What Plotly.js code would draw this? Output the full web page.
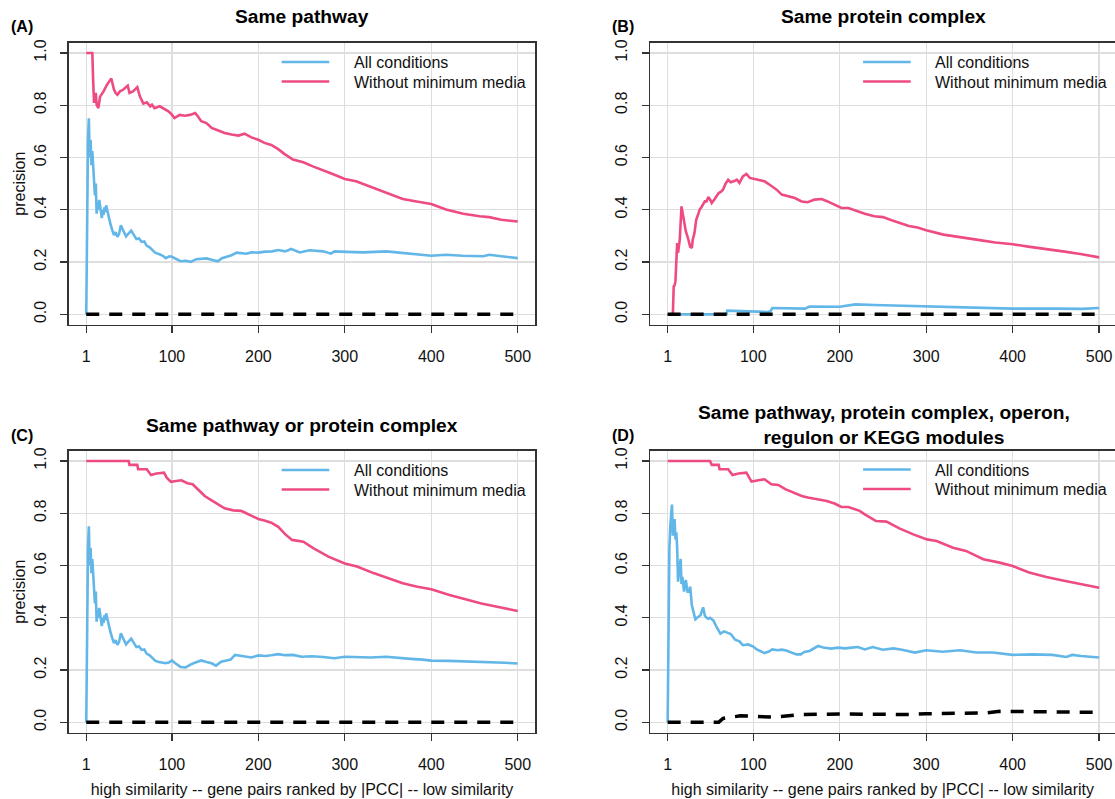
<!DOCTYPE html>
<html><head><meta charset="utf-8">
<script src="https://cdn.plot.ly/plotly-3.0.1.min.js"></script>
<style>html,body{margin:0;padding:0;background:#fff}#chart{width:1115px;height:799px}</style>
</head><body><div id="chart"></div>
<script>
// ---------- text ----------
const panelTitles = ['Same pathway', 'Same protein complex', 'Same pathway or protein complex',
  'Same pathway, protein complex, operon,<br>regulon or KEGG modules'];
const panelLabels = ['(A)', '(B)', '(C)', '(D)'];
const seriesNames = ['All conditions', 'Without minimum media'];
const yAxisLabel = 'precision';
const xAxisLabel = 'high similarity -- gene pairs ranked by |PCC| -- low similarity';
const xTickVals = [1, 100, 200, 300, 400, 500];
const xTickText = ['1', '100', '200', '300', '400', '500'];
const yTickVals = [0, 0.2, 0.4, 0.6, 0.8, 1.0];
const yTickText = ['0.0', '0.2', '0.4', '0.6', '0.8', '1.0'];

// ---------- (A) Same pathway ----------
const aAllX = [1,2,3,4,5,6,7,8,9,10,11,12,13,14,15,16,17,18,19,20,21,22,23,24,25,26,27,29,31,33,35,37,39,41,43,45,47,49,51,53,56,59,62,65,68,71,74,77,81,85,89,93,97,100,104,110,116,122,128,134,140,146,153,158,163,169,175,180,186,192,200,208,216,223,231,238,248,259,275,284,288,302,321,348,367,386,400,417,436,460,467,481,500];
const aAllY = [0,0.5,0.667,0.75,0.6,0.667,0.571,0.625,0.556,0.5,0.455,0.5,0.385,0.429,0.4,0.438,0.412,0.389,0.368,0.4,0.381,0.409,0.391,0.417,0.4,0.385,0.37,0.345,0.323,0.303,0.314,0.297,0.308,0.341,0.326,0.311,0.298,0.306,0.314,0.32,0.304,0.288,0.29,0.277,0.279,0.262,0.257,0.247,0.235,0.231,0.225,0.215,0.222,0.22,0.212,0.203,0.205,0.201,0.211,0.213,0.214,0.209,0.203,0.215,0.22,0.226,0.236,0.234,0.232,0.237,0.236,0.24,0.241,0.246,0.241,0.25,0.237,0.245,0.241,0.232,0.241,0.239,0.237,0.241,0.235,0.228,0.224,0.228,0.224,0.222,0.228,0.222,0.215];
const aNoMinX = [1,8,9,10,12,13,15,17,21,25,30,33,35,37,40,44,49,51,55,60,63,67,71,75,77,80,86,92,96,100,103,109,115,121,127,130,134,140,146,153,161,169,177,184,192,200,207,215,223,230,240,252,263,283,300,313,333,352,367,383,400,417,437,456,467,481,500];
const aNoMinY = [1,1,0.892,0.809,0.847,0.802,0.789,0.833,0.853,0.879,0.902,0.86,0.847,0.84,0.853,0.86,0.875,0.847,0.853,0.869,0.834,0.806,0.811,0.796,0.802,0.789,0.796,0.783,0.777,0.764,0.751,0.763,0.76,0.763,0.77,0.758,0.739,0.732,0.713,0.704,0.694,0.688,0.684,0.691,0.677,0.668,0.656,0.648,0.632,0.614,0.592,0.582,0.566,0.541,0.518,0.509,0.483,0.458,0.441,0.432,0.422,0.401,0.385,0.375,0.372,0.362,0.355];
const aRandX = [1, 500];
const aRandY = [0, 0];

// ---------- (B) Same protein complex ----------
const bAllX = [1,69,70,117,120,122,160,165,200,210,218,240,300,350,400,450,480,500];
const bAllY = [0,0,0.014,0.009,0.012,0.024,0.022,0.03,0.029,0.033,0.038,0.036,0.03,0.026,0.022,0.022,0.021,0.024];
const bNoMinX = [1,7,8,9,10,11,12,13,14,15,17,18,20,22,25,27,29,30,32,34,36,38,40,42,44,46,48,50,52,55,57,60,63,65,68,71,74,76,78,81,84,88,92,96,102,108,113,119,127,133,140,148,156,163,171,179,186,194,202,210,217,229,240,250,260,270,280,290,300,320,340,360,380,400,420,440,460,480,500];
const bNoMinY = [0,0,0.107,0.111,0.126,0.235,0.273,0.235,0.273,0.286,0.413,0.39,0.349,0.318,0.286,0.259,0.254,0.286,0.311,0.362,0.38,0.401,0.41,0.42,0.432,0.432,0.449,0.44,0.426,0.439,0.45,0.464,0.47,0.477,0.5,0.515,0.505,0.509,0.51,0.515,0.503,0.528,0.537,0.522,0.518,0.515,0.509,0.496,0.477,0.458,0.452,0.445,0.432,0.429,0.439,0.441,0.432,0.42,0.407,0.407,0.398,0.385,0.375,0.372,0.36,0.348,0.338,0.332,0.322,0.305,0.296,0.285,0.275,0.268,0.258,0.25,0.24,0.23,0.218];
const bRandX = [1, 500];
const bRandY = [0, 0];

// ---------- (C) Same pathway or protein complex ----------
const cAllX = [1,2,3,4,5,6,7,8,9,10,11,12,13,14,15,16,17,18,19,20,21,22,23,24,25,26,27,29,31,33,35,37,39,41,43,45,47,49,51,53,56,59,62,65,68,71,74,77,81,85,89,93,97,100,104,110,116,122,128,134,140,146,151,157,162,168,173,180,186,192,200,208,215,223,231,240,250,262,275,288,300,315,330,348,362,376,390,400,420,438,455,471,485,500];
const cAllY = [0,0.5,0.667,0.75,0.6,0.667,0.571,0.625,0.556,0.5,0.455,0.5,0.385,0.429,0.4,0.438,0.412,0.389,0.368,0.4,0.381,0.409,0.391,0.417,0.4,0.385,0.37,0.345,0.323,0.303,0.314,0.297,0.308,0.341,0.326,0.311,0.298,0.306,0.314,0.32,0.304,0.288,0.29,0.277,0.279,0.262,0.257,0.247,0.235,0.231,0.228,0.226,0.23,0.237,0.226,0.212,0.21,0.222,0.23,0.237,0.231,0.226,0.217,0.232,0.236,0.24,0.258,0.254,0.25,0.248,0.256,0.254,0.257,0.261,0.257,0.258,0.251,0.253,0.25,0.245,0.251,0.249,0.248,0.251,0.246,0.243,0.24,0.236,0.235,0.233,0.231,0.232,0.228,0.225];
const cNoMinX = [1,50,51,60,61,71,75,76,82,91,94,99,105,111,118,124,130,138,146,153,161,171,180,186,192,200,207,215,223,231,239,252,264,281,300,314,334,355,367,384,400,421,438,458,479,500];
const cNoMinY = [1,1,0.985,0.985,0.968,0.968,0.95,0.946,0.952,0.955,0.936,0.92,0.923,0.926,0.915,0.911,0.892,0.866,0.849,0.834,0.819,0.811,0.809,0.8,0.79,0.778,0.772,0.764,0.748,0.72,0.698,0.691,0.666,0.634,0.608,0.596,0.57,0.545,0.532,0.519,0.509,0.487,0.471,0.455,0.44,0.426];
const cRandX = [1, 500];
const cRandY = [0, 0];

// ---------- (D) Same pathway, protein complex, operon, regulon or KEGG modules ----------
const dAllX = [1,2,3,4,5,6,7,8,9,10,11,12,13,14,15,16,17,18,19,20,21,22,23,24,26,27,29,31,33,35,37,39,42,44,46,48,50,54,58,62,66,70,74,79,84,88,94,100,104,108,113,118,122,128,133,138,144,150,155,159,165,170,175,181,190,198,206,214,221,229,238,250,262,272,281,287,300,319,339,358,377,390,400,423,446,462,469,479,490,500];
const dAllY = [0,0.5,0.667,0.75,0.8,0.833,0.714,0.75,0.778,0.7,0.727,0.667,0.538,0.571,0.6,0.625,0.529,0.556,0.526,0.5,0.524,0.545,0.522,0.5,0.5,0.519,0.448,0.419,0.394,0.4,0.405,0.41,0.44,0.409,0.4,0.396,0.4,0.389,0.362,0.339,0.348,0.343,0.338,0.316,0.31,0.295,0.298,0.29,0.279,0.273,0.265,0.271,0.279,0.276,0.278,0.275,0.267,0.26,0.26,0.269,0.273,0.282,0.292,0.286,0.282,0.286,0.283,0.286,0.288,0.279,0.288,0.278,0.283,0.278,0.273,0.267,0.276,0.27,0.276,0.267,0.267,0.262,0.258,0.26,0.258,0.25,0.258,0.254,0.25,0.248];
const dNoMinX = [1,50,52,60,61,71,76,83,92,98,106,113,121,129,137,146,156,163,175,185,194,202,210,217,223,229,242,254,269,285,301,312,331,346,366,385,400,419,439,458,479,500];
const dNoMinY = [1,1,0.985,0.985,0.968,0.968,0.946,0.952,0.955,0.921,0.926,0.93,0.911,0.908,0.892,0.879,0.866,0.86,0.853,0.847,0.837,0.824,0.824,0.815,0.809,0.796,0.77,0.768,0.742,0.719,0.7,0.694,0.668,0.656,0.624,0.611,0.598,0.573,0.556,0.543,0.528,0.515];
const dRandX = [1,60,65,80,85,125,140,155,200,240,280,300,330,370,385,420,460,500];
const dRandY = [0,0,0.015,0.02,0.025,0.02,0.025,0.03,0.032,0.03,0.03,0.033,0.033,0.036,0.042,0.041,0.039,0.038];

// ---------- drawing ----------
const FONT = 'Liberation Sans, Arial, Helvetica, sans-serif';
const BLUE = '#62B7E8';
const PINK = '#EE4B82';
const SERIES_COLORS = [BLUE, PINK];
const txt = {family: FONT, size: 16, color: '#111'};

const panels = [
  {all: [aAllX, aAllY], nomin: [aNoMinX, aNoMinY], rand: [aRandX, aRandY]},
  {all: [bAllX, bAllY], nomin: [bNoMinX, bNoMinY], rand: [bRandX, bRandY]},
  {all: [cAllX, cAllY], nomin: [cNoMinX, cNoMinY], rand: [cRandX, cRandY]},
  {all: [dAllX, dAllY], nomin: [dNoMinX, dNoMinY], rand: [dRandX, dRandY]}
];

const traces = [];
panels.forEach((p, i) => {
  const n = i === 0 ? '' : String(i + 1);
  const xr = 'x' + n, yr = 'y' + n;
  traces.push({x: p.all[0], y: p.all[1], type: 'scatter', mode: 'lines', name: seriesNames[0],
    line: {color: BLUE, width: 2.6}, xaxis: xr, yaxis: yr, showlegend: false});
  traces.push({x: p.nomin[0], y: p.nomin[1], type: 'scatter', mode: 'lines', name: seriesNames[1],
    line: {color: PINK, width: 2.6}, xaxis: xr, yaxis: yr, showlegend: false});
  traces.push({x: p.rand[0], y: p.rand[1], type: 'scatter', mode: 'lines', name: 'random',
    line: {color: '#000', width: 3.5, dash: '13px,10px'}, xaxis: xr, yaxis: yr, showlegend: false});
});

const W = 1115, H = 799;
const px = v => v / W, py = v => 1 - v / H;
const xDomL = [px(69.0), px(535.0)], xDomR = [px(650.4), 1];
const xRangeL = [-18.96, 519.96], xRangeR = [-18.96, 518.34];
const yDomT = [py(324.8), py(42.5)], yDomB = [py(732.8), py(450.5)];

function xAxis(domain, range, anchor, withTitle) {
  return {domain, range, anchor, fixedrange: true, tickmode: 'array', tickvals: xTickVals, ticktext: xTickText,
    ticks: 'outside', ticklen: 7, tickwidth: 1.3, tickcolor: '#333', showline: true, linecolor: '#333',
    linewidth: 1.6, mirror: true, showgrid: true, gridcolor: '#dedede', gridwidth: 1.3, zeroline: false,
    tickfont: txt, ticklabelstandoff: 9,
    title: withTitle ? {text: xAxisLabel, font: txt, standoff: 12} : {text: ''}};
}
function yAxis(domain, anchor, mirror, withTitle) {
  return {domain, range: [-0.04, 1.04], anchor, fixedrange: true, tickmode: 'array', tickvals: yTickVals,
    ticktext: yTickText, tickangle: -90, ticks: 'outside', ticklen: 7, tickwidth: 1.3, tickcolor: '#333',
    showline: true, linecolor: '#333', linewidth: 1.6, mirror, showgrid: true, gridcolor: '#dedede',
    gridwidth: 1.3, zeroline: false, tickfont: txt, ticklabelstandoff: 8,
    title: withTitle ? {text: yAxisLabel, font: txt, standoff: 2} : {text: ''}};
}

const annotations = [];
const shapes = [];
const titlePos = [[302, 16.8], [883.7, 16.8], [302, 425], [883.7, 424.5]];
const labelPos = [[21.8, 26.8], [623, 26.8], [21.8, 435.7], [623, 435.7]];
panelTitles.forEach((t, i) => annotations.push({text: t, x: px(titlePos[i][0]), y: py(titlePos[i][1]),
  xref: 'paper', yref: 'paper', xanchor: 'center', yanchor: 'middle', showarrow: false,
  font: {family: FONT, size: 19.2, color: '#000', weight: 'bold'}}));
panelLabels.forEach((t, i) => annotations.push({text: t, x: px(labelPos[i][0]), y: py(labelPos[i][1]),
  xref: 'paper', yref: 'paper', xanchor: 'center', yanchor: 'middle', showarrow: false,
  font: {family: FONT, size: 16, color: '#000', weight: 'bold'}}));

// legends (one per panel): sample line + label
const legendOrigin = [[281.7, 62], [863.1, 62], [281.7, 470], [863.1, 469.5]];
legendOrigin.forEach(([lx, ly]) => {
  seriesNames.forEach((name, k) => {
    const yy = ly + k * 19.5;
    shapes.push({type: 'line', xref: 'paper', yref: 'paper', x0: px(lx), x1: px(lx + 47.6), y0: py(yy), y1: py(yy),
      line: {color: SERIES_COLORS[k], width: 2.6}});
    annotations.push({text: name, x: px(lx + 70), y: py(yy + 0.5), xref: 'paper', yref: 'paper',
      xanchor: 'left', yanchor: 'middle', showarrow: false, font: txt});
  });
});

const layout = {
  width: W, height: H, margin: {l: 0, r: 0, t: 0, b: 0}, paper_bgcolor: '#fff', plot_bgcolor: '#fff',
  font: txt, hovermode: false, showlegend: false,
  xaxis: xAxis(xDomL, xRangeL, 'y', false),
  xaxis2: xAxis(xDomR, xRangeR, 'y2', false),
  xaxis3: xAxis(xDomL, xRangeL, 'y3', true),
  xaxis4: xAxis(xDomR, xRangeR, 'y4', true),
  yaxis: yAxis(yDomT, 'x', true, true),
  yaxis2: yAxis(yDomT, 'x2', false, false),
  yaxis3: yAxis(yDomB, 'x3', true, true),
  yaxis4: yAxis(yDomB, 'x4', false, false),
  annotations, shapes
};
Plotly.newPlot('chart', traces, layout, {staticPlot: true, displayModeBar: false});
</script></body></html>
